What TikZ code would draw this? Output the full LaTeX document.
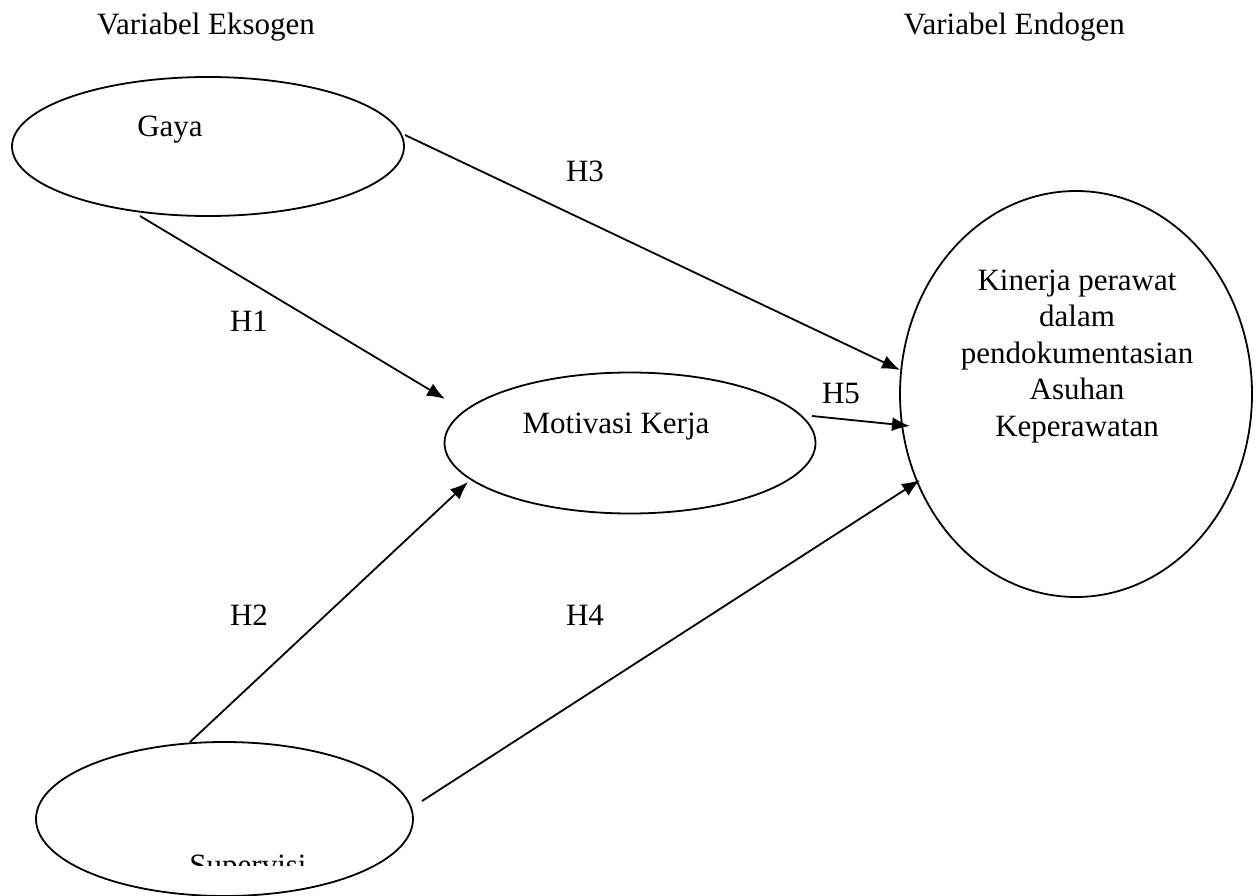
\documentclass[tikz,border=0pt]{standalone}
\usepackage{fontspec}
\setmainfont{Liberation Serif}
\usetikzlibrary{shapes.geometric,arrows.meta}

\begin{document}
\begin{tikzpicture}[x=1pt,y=-1pt,
  oval/.style={draw,ellipse,line width=1.8pt,inner sep=0pt},
  txt/.style={font=\fontsize{31}{36.5}\selectfont,inner sep=0pt,anchor=base},
  link/.style={line width=1.8pt,-{Latex[length=18pt,width=14pt]}}]
  \useasboundingbox (0,0) rectangle (1259,896);

  % column headings
  \node[txt] (hexo) at (206,35) {Variabel Eksogen};
  \node[txt,anchor=base east] (hendo) at (1125,35) {Variabel Endogen};

  % latent variables
  \node[oval,minimum width=392pt,minimum height=139pt] (gaya) at (208,146.5) {};
  \node[txt] (tgaya) at (170,137) {Gaya};

  \node[oval,minimum width=371pt,minimum height=141pt] (motiv) at (630,443) {};
  \node[txt] (tmotiv) at (616,433) {Motivasi Kerja};

  \node[oval,minimum width=377pt,minimum height=154pt] (superv) at (224.5,819) {};
  \begin{scope}
    \clip (0,0) rectangle (1259,865);
    \node[txt] (tsuperv) at (248,875) {Supervisi};
  \end{scope}

  \node[oval,minimum width=352pt,minimum height=406pt] (kinerja) at (1076,394) {};
  % multi-line text: the base anchor sits on the last line
  \node[txt,align=center] (tkinerja) at (1077,436)
    {Kinerja perawat\\dalam\\pendokumentasian\\Asuhan\\Keperawatan};

  % connector end points
  \coordinate (g3) at (405,135);  \coordinate (k3) at (900,370);
  \coordinate (g1) at (140,216);  \coordinate (m1) at (445,399);
  \coordinate (m5) at (812,416);  \coordinate (k5) at (910,426);
  \coordinate (s2) at (190,742);  \coordinate (m2) at (468,482);
  \coordinate (s4) at (422,801);  \coordinate (k4) at (920,480);

  \draw[link] (g3) -- (k3);
  \draw[link] (g1) -- (m1);
  \draw[link] (m5) -- (k5);
  \draw[link] (s2) -- (m2);
  \draw[link] (s4) -- (k4);

  % hypothesis labels
  \node[txt] (h1) at (249,331) {H1};
  \node[txt] (h2) at (249,625) {H2};
  \node[txt] (h3) at (585,182) {H3};
  \node[txt] (h4) at (585,625) {H4};
  \node[txt] (h5) at (841,403) {H5};
\end{tikzpicture}
\end{document}
